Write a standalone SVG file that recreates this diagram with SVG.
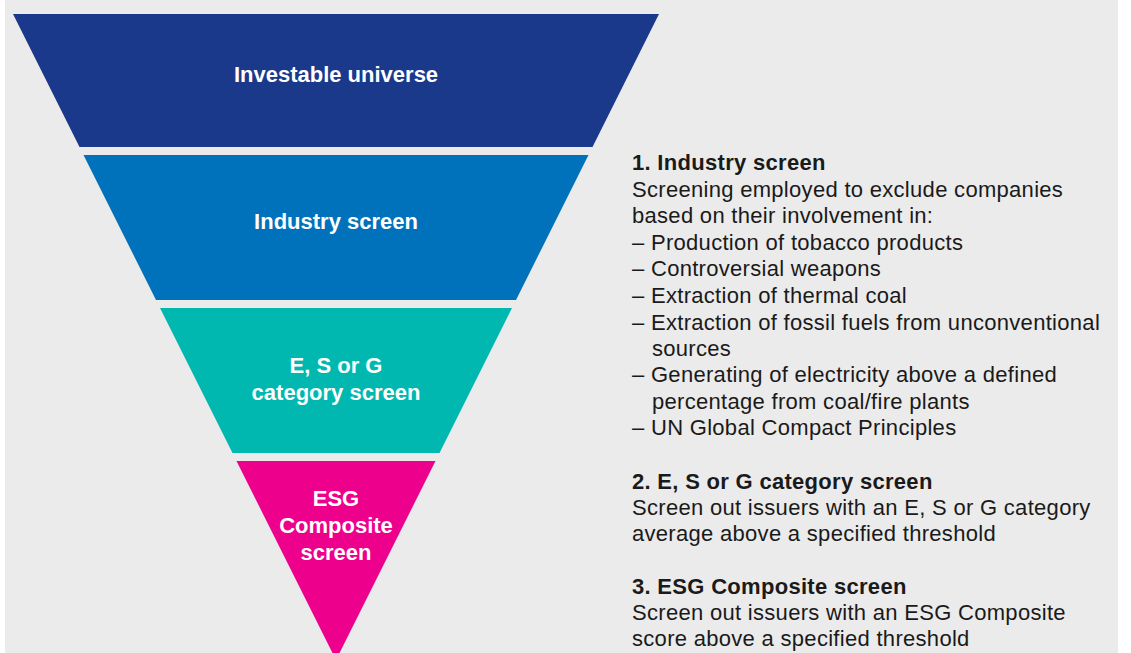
<svg xmlns="http://www.w3.org/2000/svg" width="1131" height="653" viewBox="0 0 1131 653">
<style>
.lbl{font-family:"Liberation Sans",Arial,sans-serif;font-weight:bold;font-size:22px;fill:#ffffff;text-anchor:middle}
.t{font-family:"Liberation Sans",Arial,sans-serif;font-size:22px;letter-spacing:0.3px;fill:#1a1a1a}
.h{font-weight:bold}
</style>
<rect x="0" y="0" width="1131" height="653" fill="#ffffff"/>
<rect x="5" y="0" width="1113" height="653" fill="#ebebeb"/>
<g id="investable-universe">
<polygon points="13,14 659,14 592.5,147 79.5,147" fill="#1b398b"/>
<text class="lbl" x="336" y="82">Investable universe</text>
</g>
<g id="industry-screen">
<polygon points="83.5,155 588.5,155 516,300 156,300" fill="#0072bb"/>
<text class="lbl" x="336" y="229">Industry screen</text>
</g>
<g id="category-screen">
<polygon points="160,308 512,308 439.5,453 232.5,453" fill="#00b8b0"/>
<text class="lbl" x="336" y="373">E, S or G</text>
<text class="lbl" x="336" y="400">category screen</text>
</g>
<g id="composite-screen">
<polygon points="236.5,461 435.5,461 336,660" fill="#ec008c"/>
<text class="lbl" x="336" y="506">ESG</text>
<text class="lbl" x="336" y="533">Composite</text>
<text class="lbl" x="336" y="560">screen</text>
</g>
<g id="connectors"></g>
<g id="description">
<text class="t h" x="632" y="170">1. Industry screen</text>
<text class="t" x="632" y="197">Screening employed to exclude companies</text>
<text class="t" x="632" y="223">based on their involvement in:</text>
<text class="t" x="632" y="250">– Production of tobacco products</text>
<text class="t" x="632" y="276">– Controversial weapons</text>
<text class="t" x="632" y="303">– Extraction of thermal coal</text>
<text class="t" x="632" y="330">– Extraction of fossil fuels from unconventional</text>
<text class="t" x="652" y="356">sources</text>
<text class="t" x="632" y="382">– Generating of electricity above a defined</text>
<text class="t" x="652" y="409">percentage from coal/fire plants</text>
<text class="t" x="632" y="435">– UN Global Compact Principles</text>
<text class="t h" x="632" y="489">2. E, S or G category screen</text>
<text class="t" x="632" y="515">Screen out issuers with an E, S or G category</text>
<text class="t" x="632" y="541">average above a specified threshold</text>
<text class="t h" x="632" y="594">3. ESG Composite screen</text>
<text class="t" x="632" y="620">Screen out issuers with an ESG Composite</text>
<text class="t" x="632" y="646">score above a specified threshold</text>
</g>
</svg>
